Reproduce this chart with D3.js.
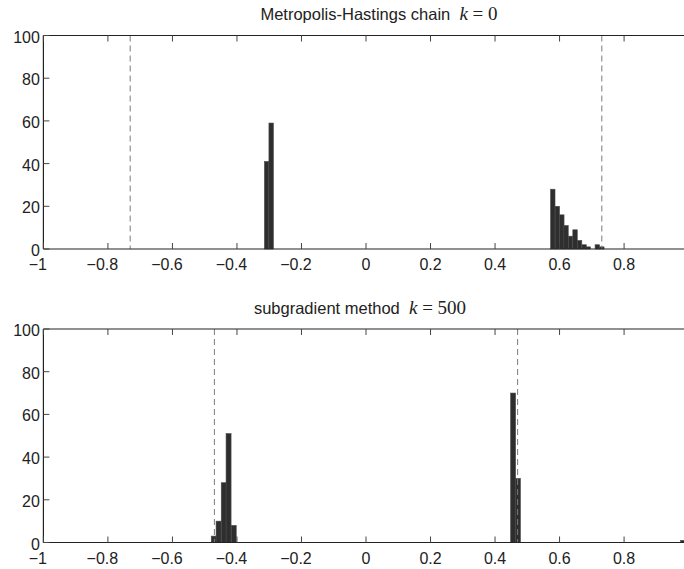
<!DOCTYPE html>
<html>
<head>
<meta charset="utf-8">
<script src="https://cdn.jsdelivr.net/npm/d3@7"></script>
<style>
  body { margin: 0; background: #fff; }
  svg { display: block; }
</style>
</head>
<body>
<svg width="684" height="569"></svg>
<script>
// tick values shared by both panels
const xTicks = [-1, -0.8, -0.6, -0.4, -0.2, 0, 0.2, 0.4, 0.6, 0.8];
const xTickLabels = ["\u22121", "\u22120.8", "\u22120.6", "\u22120.4", "\u22120.2", "0", "0.2", "0.4", "0.6", "0.8"];
const yTicks = [0, 20, 40, 60, 80, 100];

// Metropolis-Hastings chain, k = 0
const mhCenters = [-0.308, -0.294, 0.579, 0.593, 0.607, 0.620, 0.634, 0.648, 0.662, 0.676, 0.689, 0.717, 0.731];
const mhCounts = [41, 59, 28, 20, 16, 11, 6, 9, 4, 2, 1, 2, 1];
const mhBinWidth = 0.0138;
const mhMarks = [-0.731, 0.731];

// subgradient method, k = 500
const sgCenters = [-0.472, -0.457, -0.441, -0.426, -0.410, 0.456, 0.471, 0.983];
const sgCounts = [3, 10, 28, 51, 8, 70, 30, 1];
const sgBinWidth = 0.0155;
const sgMarks = [-0.47, 0.47];

const svg = d3.select("svg");
const left = 43.4;
const right = 688.6;

const x = d3.scaleLinear().domain([-1, 1]).range([left, right]);

function panel(top, bottom, titleText, mathVar, mathVal, titleX, centers, counts, binWidth, marks) {
  const y = d3.scaleLinear().domain([0, 100]).range([bottom, top]);
  const g = svg.append("g");
  const bins = centers.map((c, i) => ({ c: c, n: counts[i] }));

  g.selectAll(".bar")
    .data(bins)
    .enter()
    .append("rect")
    .attr("class", "bar")
    .attr("x", (d) => x(d.c - binWidth / 2))
    .attr("width", (d) => x(d.c + binWidth / 2) - x(d.c - binWidth / 2))
    .attr("y", (d) => y(d.n))
    .attr("height", (d) => y(0) - y(d.n))
    .attr("fill", "#2e2e2e")
    .attr("stroke", "#4a4a4a")
    .attr("stroke-width", 0.6);

  g.selectAll(".mark")
    .data(marks)
    .enter()
    .append("line")
    .attr("x1", (d) => x(d))
    .attr("x2", (d) => x(d))
    .attr("y1", top)
    .attr("y2", bottom)
    .attr("stroke", "#7a7a7a")
    .attr("stroke-width", 1)
    .attr("stroke-dasharray", "6,4");

  // box lines: bottom, top, left
  const axisColor = "#222";
  g.append("line").attr("x1", left).attr("x2", right).attr("y1", bottom).attr("y2", bottom)
    .attr("stroke", axisColor).attr("stroke-width", 1.2);
  g.append("line").attr("x1", left).attr("x2", right).attr("y1", top).attr("y2", top)
    .attr("stroke", axisColor).attr("stroke-width", 1.2);
  g.append("line").attr("x1", left).attr("x2", left).attr("y1", top).attr("y2", bottom)
    .attr("stroke", axisColor).attr("stroke-width", 1.2);

  // inward ticks
  const tl = 6;
  g.selectAll(".xtb").data(xTicks).enter().append("line")
    .attr("x1", (d) => x(d)).attr("x2", (d) => x(d))
    .attr("y1", bottom).attr("y2", bottom - tl)
    .attr("stroke", "#444").attr("stroke-width", 1);
  g.selectAll(".xtt").data(xTicks).enter().append("line")
    .attr("x1", (d) => x(d)).attr("x2", (d) => x(d))
    .attr("y1", top).attr("y2", top + tl)
    .attr("stroke", "#444").attr("stroke-width", 1);
  g.selectAll(".yt").data(yTicks).enter().append("line")
    .attr("x1", left).attr("x2", left + tl)
    .attr("y1", (d) => y(d)).attr("y2", (d) => y(d))
    .attr("stroke", "#444").attr("stroke-width", 1);

  // tick labels
  g.selectAll(".xl").data(xTicks).enter().append("text")
    .attr("x", (d) => x(d))
    .attr("dx", (d) => (d < 0 ? -5.5 : 0))
    .attr("y", bottom + 21)
    .attr("text-anchor", "middle")
    .attr("font-family", "'Liberation Sans', Arial, sans-serif")
    .attr("font-size", 16)
    .attr("fill", "#222")
    .text((d, i) => xTickLabels[i]);
  g.selectAll(".yl").data(yTicks).enter().append("text")
    .attr("x", left - 3.5)
    .attr("y", (d) => y(d) + 1.5)
    .attr("text-anchor", "end")
    .attr("dominant-baseline", "central")
    .attr("font-family", "'Liberation Sans', Arial, sans-serif")
    .attr("font-size", 16)
    .attr("fill", "#222")
    .text((d) => d);

  // title
  const t = g.append("text")
    .attr("x", titleX)
    .attr("y", top - 15.5)
    .attr("text-anchor", "middle")
    .attr("fill", "#222");
  t.append("tspan")
    .attr("font-family", "'Liberation Sans', Arial, sans-serif")
    .attr("font-size", 16.5)
    .text(titleText + "\u00a0\u00a0");
  t.append("tspan")
    .attr("font-family", "'Liberation Serif', 'Times New Roman', serif")
    .attr("font-style", "italic")
    .attr("font-size", 19)
    .text(mathVar);
  t.append("tspan")
    .attr("font-family", "'Liberation Serif', 'Times New Roman', serif")
    .attr("font-size", 19)
    .text("\u00a0=\u00a0" + mathVal);
}

panel(35.5, 249, "Metropolis-Hastings chain", "k", "0", 379, mhCenters, mhCounts, mhBinWidth, mhMarks);
panel(329, 542.5, "subgradient method", "k", "500", 360, sgCenters, sgCounts, sgBinWidth, sgMarks);
</script>
</body>
</html>
